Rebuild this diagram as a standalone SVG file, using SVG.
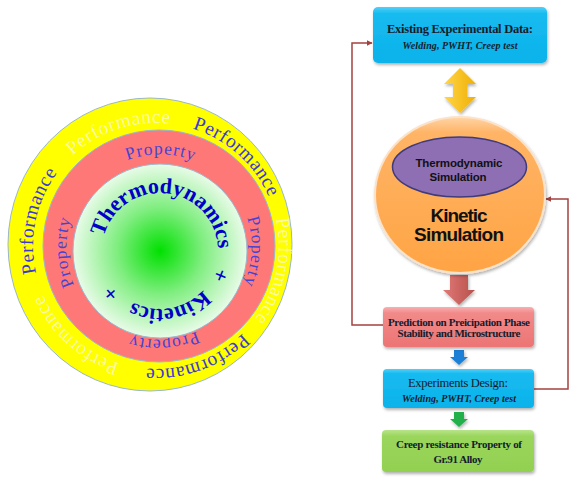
<svg xmlns="http://www.w3.org/2000/svg" xmlns:xlink="http://www.w3.org/1999/xlink" width="587" height="484" viewBox="0 0 587 484">
<style>
.ring{stroke:#9ab8cc;stroke-width:1}
.core{font-family:"Liberation Serif",serif;font-weight:bold;font-size:22px;fill:#0000c8}
.prop{font-family:"Liberation Serif",serif;font-size:17.5px;fill:#4444d4;letter-spacing:1px}
.perf{font-family:"Liberation Serif",serif;font-size:19.5px;letter-spacing:0.6px}
.perfB{fill:#3a3ad2}
.perfP{fill:#f9f9b8;fill-opacity:0.9}
.box{filter:url(#sh)}
.t1{font-family:"Liberation Serif",serif;fill:#141c2c;text-anchor:middle}
.sans{font-family:"Liberation Sans",sans-serif;font-weight:bold;fill:#111;text-anchor:middle}
.conn{fill:none;stroke:#a3413f;stroke-width:1.5}
</style>
<defs>
<radialGradient id="gGreen" cx="50%" cy="50%" r="50%">
<stop offset="0" stop-color="#00e000"/>
<stop offset="0.5" stop-color="#80ee80"/>
<stop offset="1" stop-color="#e8fbe8"/>
</radialGradient>
<linearGradient id="gCyan" x1="0" y1="0" x2="0" y2="1">
<stop offset="0" stop-color="#52d0f7"/>
<stop offset="0.12" stop-color="#16bbf0"/>
<stop offset="1" stop-color="#0cb2ea"/>
</linearGradient>
<linearGradient id="gPink" x1="0" y1="0" x2="0" y2="1">
<stop offset="0" stop-color="#f8b0b0"/>
<stop offset="0.15" stop-color="#f28a8a"/>
<stop offset="1" stop-color="#ec7474"/>
</linearGradient>
<linearGradient id="gLime" x1="0" y1="0" x2="0" y2="1">
<stop offset="0" stop-color="#b8e48a"/>
<stop offset="0.15" stop-color="#9ad65c"/>
<stop offset="1" stop-color="#92d050"/>
</linearGradient>
<linearGradient id="gOrange" x1="0" y1="0" x2="0" y2="1">
<stop offset="0" stop-color="#ffd4a6"/>
<stop offset="0.1" stop-color="#ffb466"/>
<stop offset="1" stop-color="#ffa444"/>
</linearGradient>
<linearGradient id="gGold" x1="0" y1="0" x2="1" y2="0">
<stop offset="0" stop-color="#ffd54a"/>
<stop offset="1" stop-color="#f0b000"/>
</linearGradient>
<linearGradient id="gBrick" x1="0" y1="0" x2="1" y2="0">
<stop offset="0" stop-color="#e07a76"/>
<stop offset="1" stop-color="#b8504c"/>
</linearGradient>
<filter id="sh" x="-10%" y="-10%" width="130%" height="140%">
<feDropShadow dx="1" dy="2" stdDeviation="1.5" flood-color="#000" flood-opacity="0.3"/>
</filter>
<marker id="ah" viewBox="0 0 10 10" refX="9" refY="5" markerWidth="6" markerHeight="6" orient="auto" markerUnits="userSpaceOnUse">
<path d="M0,0 L10,5 L0,10 z" fill="#a3413f"/>
</marker>
<path id="pPerf" d="M61.8,166.9 A123,123 0 1,1 250.2,325.1 A123,123 0 1,1 61.8,166.9"/>
<path id="pProp" d="M93.95,181.95 A92,92 0 1,1 224.05,312.05 A92,92 0 1,1 93.95,181.95"/>
<path id="pCore" d="M102,251 A58,58 0 1,1 218,251 A58,58 0 1,1 102,251"/>
</defs>

<g id="ring-performance">
<ellipse class="ring" cx="150" cy="244.5" rx="142" ry="146.5" fill="#ffff00"/>
<text class="perf perfP"><textPath xlink:href="#pPerf" startOffset="8.89%" text-anchor="middle">Performance</textPath></text>
<text class="perf perfB"><textPath xlink:href="#pPerf" startOffset="25.56%" text-anchor="middle">Performance</textPath></text>
<text class="perf perfP"><textPath xlink:href="#pPerf" startOffset="42.22%" text-anchor="middle">Performance</textPath></text>
<text class="perf perfB"><textPath xlink:href="#pPerf" startOffset="58.33%" text-anchor="middle">Performance</textPath></text>
<text class="perf perfP"><textPath xlink:href="#pPerf" startOffset="75.56%" text-anchor="middle">Performance</textPath></text>
<text class="perf perfB"><textPath xlink:href="#pPerf" startOffset="92.22%" text-anchor="middle">Performance</textPath></text>
</g>
<g id="ring-property">
<circle class="ring" cx="159" cy="246" r="116" fill="#ff7878"/>
<text class="prop"><textPath xlink:href="#pProp" startOffset="12.78%" text-anchor="middle">Property</textPath></text>
<text class="prop"><textPath xlink:href="#pProp" startOffset="38.33%" text-anchor="middle">Property</textPath></text>
<text class="prop"><textPath xlink:href="#pProp" startOffset="61.67%" text-anchor="middle">Property</textPath></text>
<text class="prop"><textPath xlink:href="#pProp" startOffset="86.67%" text-anchor="middle">Property</textPath></text>
</g>
<g id="core">
<circle class="ring" cx="160" cy="251" r="87" fill="url(#gGreen)"/>
<text class="core"><textPath xlink:href="#pCore" startOffset="26.67%" text-anchor="middle">Thermodynamics</textPath></text>
<text class="core"><textPath xlink:href="#pCore" startOffset="56.11%" text-anchor="middle">+</textPath></text>
<text class="core"><textPath xlink:href="#pCore" startOffset="72.22%" text-anchor="middle">Kinetics</textPath></text>
<text class="core"><textPath xlink:href="#pCore" startOffset="88.61%" text-anchor="middle">+</textPath></text>
</g>

<g id="connectors">
<polygon points="460,68 476,84 467,84 467,97 476,97 460,113 444,97 453,97 453,84 444,84" fill="url(#gGold)" filter="url(#sh)"/>
<polygon points="450,275 468,275 468,290 475,290 459,305 443,290 450,290" fill="url(#gBrick)" filter="url(#sh)"/>
<polygon points="454,350 464,350 464,357 468,357 459,365 450,357 454,357" fill="#1f80d6" filter="url(#sh)"/>
<polygon points="454,412 464,412 464,419 468,419 459,427 450,419 454,419" fill="#22b04c" filter="url(#sh)"/>
<polyline class="conn" points="383,325 352,325 352,43 372,43" marker-end="url(#ah)"/>
<polyline class="conn" points="534,389 568,389 568,199 546,199" marker-end="url(#ah)"/>
</g>

<g id="node-existing">
<rect class="box" x="373" y="7" width="174" height="56" rx="5" fill="url(#gCyan)"/>
<text class="t1" x="460" y="33" font-size="12.5" font-weight="bold" textLength="146">Existing Experimental Data:</text>
<text class="t1" x="460" y="49" font-size="10" font-weight="bold" font-style="italic" textLength="115">Welding, PWHT, Creep test</text>
</g>
<g id="node-kinetic">
<ellipse class="box" cx="460" cy="195" rx="85" ry="78" fill="url(#gOrange)" stroke="#fbe2c8" stroke-width="2"/>
<text class="sans" x="459" y="222" font-size="19" textLength="57">Kinetic</text>
<text class="sans" x="459" y="241" font-size="19" textLength="90">Simulation</text>
</g>
<g id="node-thermo">
<ellipse cx="459.5" cy="167" rx="67" ry="30" fill="#8e6fb4" stroke="#3f3b7c" stroke-width="1.5"/>
<text class="sans" x="459" y="167" font-size="11.5" textLength="87" fill="#1a1a2e">Thermodynamic</text>
<text class="sans" x="458" y="181" font-size="11.5" textLength="57" fill="#1a1a2e">Simulation</text>
</g>
<g id="node-prediction">
<rect class="box" x="383" y="307" width="151" height="40" rx="4" fill="url(#gPink)"/>
<text class="t1" x="459" y="326" font-size="11" font-weight="bold" textLength="142">Prediction on Preicipation Phase</text>
<text class="t1" x="459" y="337" font-size="11" font-weight="bold" textLength="123">Stability and Microstructure</text>
</g>
<g id="node-experiments">
<rect class="box" x="383" y="369" width="151" height="39" rx="4" fill="url(#gCyan)"/>
<text class="t1" x="458" y="387" font-size="12.5" textLength="100">Experiments Design:</text>
<text class="t1" x="459" y="402" font-size="10" font-weight="bold" font-style="italic" textLength="114">Welding, PWHT, Creep test</text>
</g>
<g id="node-creep">
<rect class="box" x="382" y="430" width="152" height="42" rx="4" fill="url(#gLime)"/>
<text class="t1" x="459" y="448" font-size="11" font-weight="bold" textLength="126">Creep resistance Property of</text>
<text class="t1" x="458" y="463" font-size="11" font-weight="bold" textLength="49">Gr.91 Alloy</text>
</g>
</svg>
